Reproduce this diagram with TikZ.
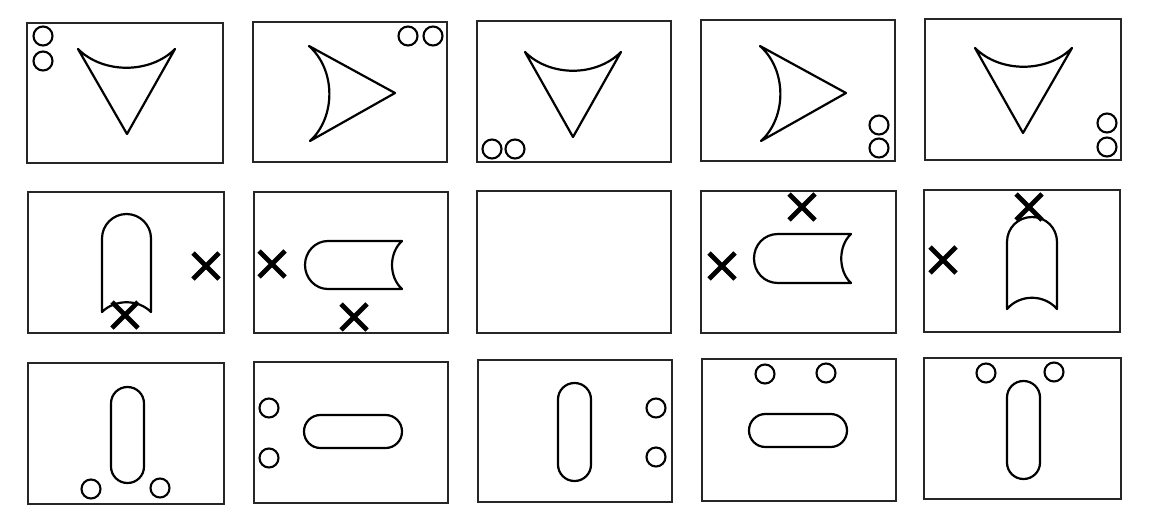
\documentclass[tikz,border=0pt]{standalone}
\begin{document}
\begin{tikzpicture}[x=1pt,y=-1pt,
  panel/.style={draw=black!85,line width=1.5pt},
  outline/.style={draw=black,line width=2.2pt,line join=round},
  hole/.style={draw=black,line width=2.1pt},
  xline/.style={draw=black,line width=4.8pt},
  cross/.pic={\draw[xline] (-13,-13) -- (13,13) (-13,13) -- (13,-13);}]
\useasboundingbox (0,0) rectangle (1151,527);
\fill[white] (0,0) rectangle (1151,527);
% ---------- row 1 ----------
\begin{scope}[shift={(27,23)}]
  \draw[panel] (0,0) rectangle (196,140);
  \draw[outline] (51,26) .. controls (76,51) and (123,51) .. (148,26) -- (100,111) -- cycle;
  \draw[hole] (16,13) circle (9.5) (16,38) circle (9.5);
\end{scope}
\begin{scope}[shift={(253,22)}]
  \draw[panel] (0,0) rectangle (194,140);
  \draw[outline] (56,24) .. controls (83,48) and (83,95) .. (57,119) -- (142,71) -- cycle;
  \draw[hole] (155,14) circle (9.5) (180,14) circle (9.5);
\end{scope}
\begin{scope}[shift={(477,21)}]
  \draw[panel] (0,0) rectangle (194,141);
  \draw[outline] (48,31) .. controls (73,56) and (119,56) .. (144,31) -- (96,116) -- cycle;
  \draw[hole] (15,128) circle (9.5) (38,128) circle (9.5);
\end{scope}
\begin{scope}[shift={(701,20)}]
  \draw[panel] (0,0) rectangle (194,141);
  \draw[outline] (59,26) .. controls (86,50) and (86,97) .. (60,121) -- (145,73) -- cycle;
  \draw[hole] (178,105) circle (9.5) (178,128) circle (9.5);
\end{scope}
\begin{scope}[shift={(925,19)}]
  \draw[panel] (0,0) rectangle (196,141);
  \draw[outline] (50,29) .. controls (75,54) and (122,54) .. (147,29) -- (98,114) -- cycle;
  \draw[hole] (182,104) circle (9.5) (182,128) circle (9.5);
\end{scope}
% ---------- row 2 ----------
\begin{scope}[shift={(28,192)}]
  \draw[panel] (0,0) rectangle (196,141);
  \draw[outline] (74,120) -- (74,46.5) .. controls (74,33) and (85,22) .. (98.5,22)
     .. controls (112,22) and (123,33) .. (123,46.5) -- (123,120)
     .. controls (110,107) and (87,107) .. (74,120) -- cycle;
  \pic at (97,123) {cross};
  \pic at (178,74) {cross};
\end{scope}
\begin{scope}[shift={(254,192)}]
  \draw[panel] (0,0) rectangle (194,141);
  \draw[outline] (148,49) -- (74,49) .. controls (61,49) and (51,60) .. (51,73)
     .. controls (51,86) and (61,97) .. (74,97) -- (148,97)
     .. controls (134.7,85) and (134.7,61) .. (148,49) -- cycle;
  \pic at (18,72) {cross};
  \pic at (100,125) {cross};
\end{scope}
\begin{scope}[shift={(477,191)}]
  \draw[panel] (0,0) rectangle (194,142);
\end{scope}
\begin{scope}[shift={(701,191)}]
  \draw[panel] (0,0) rectangle (195,142);
  \draw[outline] (150,43) -- (77,43) .. controls (63,43) and (53,54) .. (53,67.5)
     .. controls (53,81) and (63,92) .. (77,92) -- (150,92)
     .. controls (137,80) and (137,55) .. (150,43) -- cycle;
  \pic at (21,75) {cross};
  \pic at (101,16) {cross};
\end{scope}
\begin{scope}[shift={(924,190)}]
  \draw[panel] (0,0) rectangle (196,142);
  \draw[outline] (83,119) -- (83,52) .. controls (83,38) and (94,27) .. (108,27)
     .. controls (122,27) and (133,38) .. (133,52) -- (133,119)
     .. controls (120,104) and (96,104) .. (83,119) -- cycle;
  \pic at (105,17) {cross};
  \pic at (19,70) {cross};
\end{scope}
% ---------- row 3 ----------
\begin{scope}[shift={(28,363)}]
  \draw[panel] (0,0) rectangle (196,141);
  \draw[outline,rounded corners=16.4pt] (83,24) rectangle (116,120);
  \draw[hole] (63,126) circle (9.5) (132,125) circle (9.5);
\end{scope}
\begin{scope}[shift={(254,362)}]
  \draw[panel] (0,0) rectangle (194,141);
  \draw[outline,rounded corners=16.4pt] (50,53) rectangle (148,86);
  \draw[hole] (15,46) circle (9.5) (15,96) circle (9.5);
\end{scope}
\begin{scope}[shift={(478,360)}]
  \draw[panel] (0,0) rectangle (194,142);
  \draw[outline,rounded corners=16.4pt] (80,23) rectangle (113,121);
  \draw[hole] (178,48) circle (9.5) (178,97) circle (9.5);
\end{scope}
\begin{scope}[shift={(702,359)}]
  \draw[panel] (0,0) rectangle (194,142);
  \draw[outline,rounded corners=16.4pt] (47,55) rectangle (145,88);
  \draw[hole] (63,15) circle (9.5) (124,14) circle (9.5);
\end{scope}
\begin{scope}[shift={(924,358)}]
  \draw[panel] (0,0) rectangle (197,141);
  \draw[outline,rounded corners=16.4pt] (83,23) rectangle (116,121);
  \draw[hole] (62,15) circle (9.5) (130,14) circle (9.5);
\end{scope}
\end{tikzpicture}
\end{document}
